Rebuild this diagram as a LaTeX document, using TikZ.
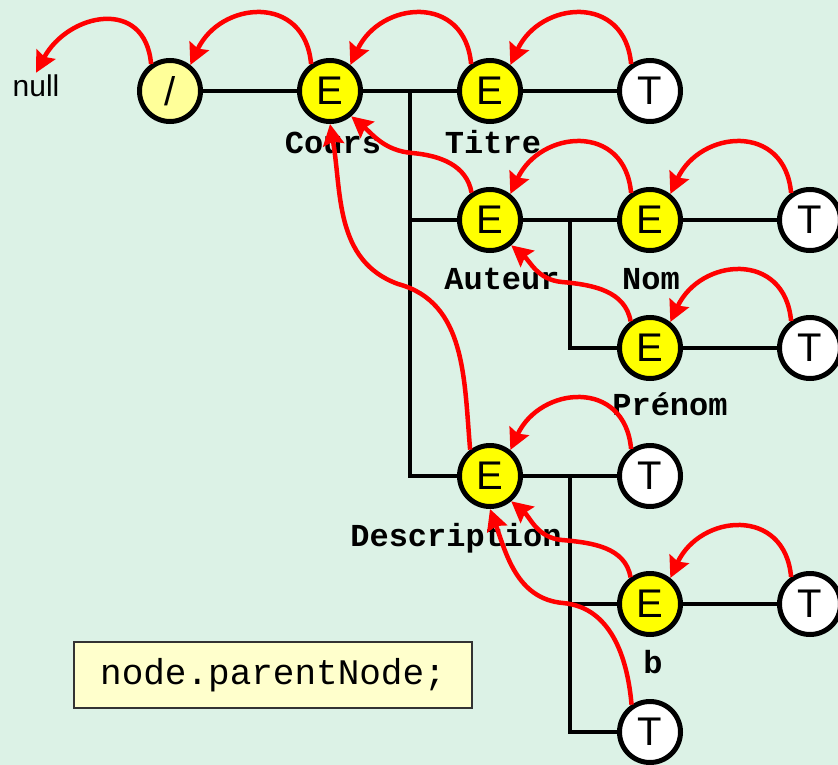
\documentclass[tikz,border=0pt]{standalone}
\usepackage{fontspec}
\setmainfont{Liberation Sans}
\newfontfamily\labfont{Liberation Mono}
\usetikzlibrary{arrows.meta}
\definecolor{bg}{RGB}{220,242,230}
\definecolor{nodey}{RGB}{255,255,0}
\definecolor{rooty}{RGB}{255,255,153}
\definecolor{boxy}{RGB}{255,255,204}
\definecolor{arrred}{RGB}{255,0,0}
\begin{document}
\begin{tikzpicture}[x=1bp,y=1bp,
  dnode/.style={circle,draw=black,line width=5bp,minimum size=61bp,inner sep=0pt,font=\fontsize{40bp}{40bp}\selectfont},
  elem/.style={dnode,fill=nodey},
  txt/.style={dnode,fill=white},
  rootn/.style={dnode,fill=rooty},
  lab/.style={font=\labfont\bfseries\fontsize{32bp}{32bp}\selectfont,inner sep=0pt,anchor=base},
  tree/.style={line width=4bp,black},
  par/.style={line width=4.5bp,arrred,-{Stealth[length=21bp,width=21bp,inset=3bp]}},
  arc/.style={par,looseness=1.5}
]
\fill[bg] (0,0) rectangle (838,-765);
\useasboundingbox (0,0) rectangle (838,-765);

% nodes
\node[rootn] (root) at (170,-91) {/};
\node[elem] (cours) at (330,-91) {E};
\node[elem] (titre) at (490,-91) {E};
\node[txt] (tT) at (650,-91) {T};
\node[elem] (auteur) at (490,-220) {E};
\node[elem] (nom) at (650,-220) {E};
\node[txt] (tNom) at (810,-220) {T};
\node[elem] (prenom) at (650,-348) {E};
\node[txt] (tPrenom) at (810,-348) {T};
\node[elem] (desc) at (490,-476) {E};
\node[txt] (tDesc) at (650,-476) {T};
\node[elem] (b) at (650,-604) {E};
\node[txt] (tB) at (810,-604) {T};
\node[txt] (tLast) at (650,-732) {T};
\node[font=\fontsize{30bp}{30bp}\selectfont,inner sep=2bp] (nullnode) at (36,-86) {null};

% labels
\node[lab] (lCours) at (333,-153) {Cours};
\node[lab] (lTitre) at (493,-153) {Titre};
\node[lab] (lAuteur) at (502,-289) {Auteur};
\node[lab] (lNom) at (651,-289) {Nom};
\node[lab] (lPrenom) at (670,-415) {Prénom};
\node[lab] (lDesc) at (456,-546) {Description};
\node[lab] (lB) at (653,-673) {b};

% code box
\node[draw=black!80,line width=1.5bp,fill=boxy,minimum width=398bp,minimum height=66bp,inner sep=0pt,
  font=\labfont\fontsize{36bp}{36bp}\selectfont] (code) at (273,-675) {node.parentNode;};

% tree lines
\coordinate (j1) at (410,-91);
\coordinate (j2) at (570,-220);
\coordinate (j3) at (570,-476);
\draw[tree] (root) -- (cours);
\draw[tree] (cours) -- (titre);
\draw[tree] (titre) -- (tT);
\draw[tree] (j1) |- (auteur);
\draw[tree] (j1) |- (desc);
\draw[tree] (auteur) -- (nom);
\draw[tree] (nom) -- (tNom);
\draw[tree] (j2) |- (prenom);
\draw[tree] (prenom) -- (tPrenom);
\draw[tree] (desc) -- (tDesc);
\draw[tree] (j3) |- (b);
\draw[tree] (b) -- (tB);
\draw[tree] (j3) |- (tLast);

% parent arcs
\draw[arc] (root.125) to[out=95,in=62] (nullnode.north);
\draw[arc] (cours.125) to[out=95,in=65] (root.52);
\draw[arc] (titre.125) to[out=95,in=65] (cours.52);
\draw[arc] (tT.125) to[out=95,in=65] (titre.52);
\draw[arc] (nom.125) to[out=95,in=65] (auteur.52);
\draw[arc] (tNom.125) to[out=95,in=65] (nom.52);
\draw[arc] (tPrenom.125) to[out=95,in=65] (prenom.52);
\draw[arc] (tDesc.125) to[out=95,in=65] (desc.52);
\draw[arc] (tB.125) to[out=95,in=65] (b.52);

% S-shaped parent connectors
\coordinate (w1) at (412,-153);
\coordinate (w2) at (562,-282);
\coordinate (w3) at (398,-284);
\coordinate (w4) at (562,-540);
\coordinate (w5) at (563,-603);
\draw[par] (auteur.124) to[out=100,in=-5] (w1) to[out=175,in=-40] (cours.-50);
\draw[par] (prenom.126) to[out=100,in=-5] (w2) to[out=175,in=-40] (auteur.-50);
\draw[par] (desc.127) to[out=95,in=-15] (w3) to[out=160,in=-80] (cours.-90);
\draw[par] (b.126) to[out=100,in=-5] (w4) to[out=175,in=-40] (desc.-50);
\draw[par] (tLast.124) to[out=95,in=-5] (w5) to[out=175,in=-70] (desc.-90);
\end{tikzpicture}
\end{document}
